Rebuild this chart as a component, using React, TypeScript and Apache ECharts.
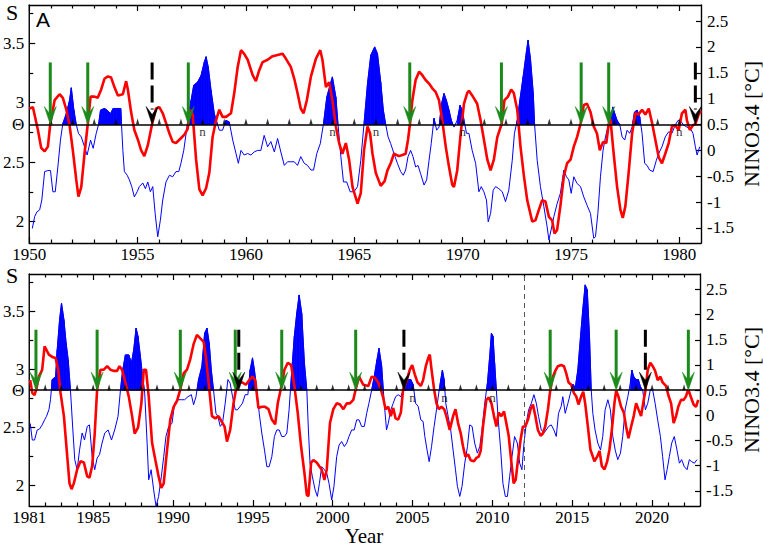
import React, { useEffect, useRef } from "react";
import * as echarts from "echarts";

// ---------------- data ----------------
// Panel A (1950-1981): S (red, left axis)
const topS: number[][] = [
  [1950.0, 2.95], [1950.17, 2.96], [1950.4, 2.77], [1950.55, 2.62], [1950.71, 2.59], [1950.86, 2.63], [1950.97, 2.82],
  [1951.17, 3.02], [1951.4, 3.07], [1951.55, 3.04], [1951.71, 2.94], [1951.86, 2.81], [1952.01, 2.6], [1952.17, 2.35],
  [1952.27, 2.21], [1952.4, 2.29], [1952.55, 2.57], [1952.7, 2.82], [1952.83, 3.05], [1953.01, 3.05], [1953.16, 3.04],
  [1953.32, 3.11], [1953.47, 3.2], [1953.63, 3.22], [1953.78, 3.21], [1953.93, 3.13], [1954.09, 3.06], [1954.32, 3.07],
  [1954.47, 3.18], [1954.55, 3.11], [1954.7, 2.92], [1954.85, 2.77], [1955.01, 2.69], [1955.16, 2.6], [1955.31, 2.55],
  [1955.47, 2.64], [1955.67, 2.82], [1955.85, 2.95], [1956.01, 2.96], [1956.16, 2.91], [1956.31, 2.83], [1956.47, 2.74],
  [1956.62, 2.67], [1956.77, 2.66], [1957.0, 2.7], [1957.16, 2.73], [1957.31, 2.78], [1957.43, 2.94], [1957.54, 2.9],
  [1957.7, 2.52], [1957.85, 2.27], [1958.0, 2.22], [1958.16, 2.28], [1958.31, 2.41], [1958.46, 2.71], [1958.62, 2.85],
  [1958.77, 2.94], [1958.92, 2.88], [1959.08, 2.88], [1959.31, 2.91], [1959.46, 3.08], [1959.62, 3.3], [1959.77, 3.44],
  [1959.92, 3.41], [1960.08, 3.36], [1960.31, 3.23], [1960.46, 3.18], [1960.61, 3.27], [1960.77, 3.34], [1961.0, 3.36],
  [1961.23, 3.39], [1961.46, 3.4], [1961.69, 3.41], [1961.84, 3.37], [1962.07, 3.3], [1962.23, 3.2], [1962.38, 3.08],
  [1962.53, 2.95], [1962.66, 2.91], [1962.81, 3.02], [1963.0, 3.22], [1963.23, 3.37], [1963.43, 3.44], [1963.53, 3.36],
  [1963.69, 3.13], [1963.84, 3.17], [1963.99, 3.02], [1964.15, 2.8], [1964.3, 2.66], [1964.45, 2.57], [1964.61, 2.66],
  [1964.76, 2.52], [1964.92, 2.29], [1965.15, 2.15], [1965.3, 2.24], [1965.45, 2.6], [1965.61, 2.8], [1965.73, 2.74],
  [1965.84, 2.57], [1965.99, 2.41], [1966.22, 2.3], [1966.4, 2.34], [1966.53, 2.43], [1966.68, 2.49], [1966.83, 2.57],
  [1967.06, 2.55], [1967.22, 2.56], [1967.37, 2.57], [1967.48, 2.69], [1967.57, 2.82], [1967.68, 3.02], [1967.83, 3.19],
  [1967.99, 3.26], [1968.14, 3.23], [1968.29, 3.19], [1968.45, 3.16], [1968.6, 3.12], [1968.75, 3.09], [1968.91, 3.02],
  [1969.06, 2.85], [1969.22, 2.63], [1969.37, 2.46], [1969.52, 2.31], [1969.6, 2.29], [1969.75, 2.43], [1969.91, 2.74],
  [1970.06, 2.99], [1970.21, 3.08], [1970.29, 3.1], [1970.44, 3.06], [1970.67, 2.99], [1970.83, 2.85], [1970.98, 2.69],
  [1971.14, 2.52], [1971.29, 2.43], [1971.44, 2.52], [1971.6, 2.71], [1971.8, 2.82], [1971.93, 3.02], [1972.09, 3.05],
  [1972.24, 3.11], [1972.36, 3.08], [1972.52, 2.94], [1972.67, 2.63], [1972.83, 2.38], [1972.98, 2.18], [1973.21, 2.0],
  [1973.36, 2.01], [1973.52, 2.1], [1973.67, 2.18], [1973.82, 2.17], [1973.98, 2.04], [1974.13, 2.01], [1974.24, 1.9],
  [1974.36, 1.93], [1974.51, 2.13], [1974.67, 2.38], [1974.82, 2.49], [1974.98, 2.52], [1975.13, 2.63], [1975.28, 2.71],
  [1975.44, 2.82], [1975.59, 2.98], [1975.74, 2.99], [1975.9, 2.92], [1976.05, 2.8], [1976.2, 2.74], [1976.33, 2.6],
  [1976.48, 2.67], [1976.63, 2.66], [1976.74, 2.82], [1976.82, 2.86], [1976.97, 2.57], [1977.13, 2.29], [1977.28, 2.1],
  [1977.39, 2.03], [1977.51, 2.13], [1977.66, 2.41], [1977.82, 2.74], [1977.97, 2.91], [1978.12, 2.9], [1978.28, 2.94],
  [1978.43, 2.9], [1978.59, 2.95], [1978.74, 2.83], [1978.89, 2.69], [1979.05, 2.54], [1979.2, 2.49], [1979.35, 2.57],
  [1979.51, 2.66], [1979.66, 2.8], [1979.81, 2.81], [1979.97, 2.77], [1980.12, 2.91], [1980.28, 2.94], [1980.35, 2.85],
  [1980.48, 2.77], [1980.63, 2.81], [1980.74, 2.82], [1980.89, 2.9], [1981.0, 2.93],
];

// Panel A: NINO3.4 (blue, right axis)
const topN: number[][] = [
  [1950.14, -1.51], [1950.25, -1.28], [1950.35, -1.19], [1950.48, -1.15], [1950.58, -0.96], [1950.71, -0.41],
  [1950.86, -0.39], [1950.98, -0.39], [1951.09, -0.8], [1951.2, -0.8], [1951.32, -0.32], [1951.44, 0.2], [1951.55, 0.52],
  [1951.71, 0.71], [1951.86, 0.97], [1951.94, 1.21], [1952.06, 0.78], [1952.17, 0.5], [1952.27, 0.33], [1952.4, 0.26],
  [1952.55, 0.07], [1952.67, -0.09], [1952.83, 0.2], [1952.95, 0.04], [1953.09, 0.33], [1953.2, 0.5], [1953.29, 0.78],
  [1953.47, 0.81], [1953.59, 0.78], [1953.75, 0.71], [1953.87, 0.81], [1954.01, 0.81], [1954.22, 0.81], [1954.32, 0.0],
  [1954.39, -0.41], [1954.52, -0.48], [1954.62, -0.57], [1954.73, -0.7], [1954.85, -0.9], [1954.98, -0.8], [1955.08, -0.7],
  [1955.24, -0.63], [1955.36, -0.74], [1955.47, -0.61], [1955.59, -0.8], [1955.7, -0.7], [1955.81, -1.22], [1955.93, -1.67],
  [1956.05, -1.35], [1956.16, -0.96], [1956.31, -0.61], [1956.47, -0.48], [1956.62, -0.51], [1956.77, -0.41],
  [1956.9, -0.41], [1957.0, -0.25], [1957.13, 0.0], [1957.24, 0.33], [1957.34, 0.65], [1957.47, 0.97], [1957.59, 1.26],
  [1957.77, 1.32], [1957.93, 1.45], [1958.08, 1.71], [1958.16, 1.81], [1958.26, 1.61], [1958.39, 1.16], [1958.54, 0.71],
  [1958.69, 0.5], [1958.77, 0.39], [1958.92, 0.39], [1959.08, 0.58], [1959.23, 0.55], [1959.39, 0.2], [1959.54, -0.06],
  [1959.65, -0.25], [1959.77, 0.0], [1959.92, -0.09], [1960.08, -0.06], [1960.23, -0.09], [1960.38, -0.03], [1960.54, 0.0],
  [1960.69, 0.0], [1960.84, 0.29], [1961.0, 0.07], [1961.15, 0.17], [1961.31, -0.03], [1961.46, 0.23], [1961.61, -0.03],
  [1961.77, -0.29], [1961.92, -0.22], [1962.07, -0.22], [1962.23, -0.22], [1962.38, -0.29], [1962.53, -0.12],
  [1962.69, -0.25], [1962.84, -0.29], [1963.0, -0.38], [1963.12, -0.38], [1963.27, -0.06], [1963.43, 0.13], [1963.58, 0.52],
  [1963.73, 1.03], [1963.92, 1.32], [1963.99, 1.42], [1964.15, 1.03], [1964.25, 0.5], [1964.38, -0.12], [1964.5, -0.61],
  [1964.65, -0.61], [1964.81, -0.8], [1964.99, -0.8], [1965.15, -0.7], [1965.3, -0.19], [1965.45, 0.52], [1965.61, 1.29],
  [1965.76, 1.84], [1965.94, 2.0], [1966.07, 1.87], [1966.22, 1.32], [1966.34, 0.78], [1966.45, 0.5], [1966.56, 0.26],
  [1966.68, 0.13], [1966.83, -0.06], [1966.99, -0.25], [1967.14, -0.41], [1967.26, -0.48], [1967.37, -0.38],
  [1967.48, -0.12], [1967.6, 0.0], [1967.71, -0.12], [1967.83, -0.32], [1967.94, -0.29], [1968.06, -0.45], [1968.22, -0.67],
  [1968.34, -0.57], [1968.45, -0.19], [1968.55, 0.13], [1968.68, 0.62], [1968.8, 0.39], [1968.91, 0.45], [1969.03, 0.91],
  [1969.14, 1.1], [1969.25, 0.97], [1969.37, 0.78], [1969.48, 0.58], [1969.6, 0.45], [1969.75, 0.58], [1969.88, 0.87],
  [1969.98, 0.78], [1970.09, 0.52], [1970.18, 0.33], [1970.29, 0.33], [1970.44, 0.0], [1970.6, -0.25], [1970.75, -0.8],
  [1970.86, -0.7], [1970.98, -0.8], [1971.1, -0.96], [1971.18, -1.38], [1971.29, -1.22], [1971.41, -0.77], [1971.52, -0.7],
  [1971.67, -0.74], [1971.83, -0.8], [1971.98, -0.99], [1972.13, -0.77], [1972.29, -0.19], [1972.39, 0.33], [1972.52, 0.58],
  [1972.64, 0.97], [1972.79, 1.42], [1972.95, 1.93], [1973.02, 2.13], [1973.13, 1.77], [1973.26, 1.1], [1973.32, 0.5],
  [1973.44, -0.19], [1973.59, -0.7], [1973.75, -1.09], [1973.9, -1.48], [1973.98, -1.73], [1974.08, -1.54], [1974.21, -1.28],
  [1974.36, -1.03], [1974.51, -0.83], [1974.67, -0.38], [1974.79, -0.51], [1974.9, -0.57], [1975.01, -0.83],
  [1975.13, -0.51], [1975.28, -0.64], [1975.44, -0.7], [1975.59, -0.9], [1975.74, -1.06], [1975.9, -1.22], [1976.05, -1.7],
  [1976.13, -1.67], [1976.24, -1.22], [1976.36, -0.51], [1976.48, 0.0], [1976.59, 0.26], [1976.7, 0.45], [1976.82, 0.58],
  [1976.93, 0.84], [1977.02, 0.71], [1977.13, 0.58], [1977.25, 0.5], [1977.36, 0.26], [1977.48, 0.2], [1977.59, 0.39],
  [1977.71, 0.33], [1977.82, 0.45], [1977.93, 0.74], [1978.05, 0.78], [1978.17, 0.65], [1978.28, 0.33], [1978.4, -0.25],
  [1978.51, -0.29], [1978.63, -0.38], [1978.79, -0.41], [1978.94, -0.19], [1979.05, -0.06], [1979.2, 0.07], [1979.35, 0.26],
  [1979.51, 0.36], [1979.66, 0.33], [1979.81, 0.49], [1979.94, 0.58], [1980.04, 0.58], [1980.2, 0.49], [1980.35, 0.45],
  [1980.51, 0.42], [1980.63, 0.33], [1980.74, 0.07], [1980.82, -0.09], [1980.94, 0.07],
];

// Panel B (1981-2023): S (red, left axis)
const bottomS: number[][] = [
  [1981.06, 2.91], [1981.19, 2.8], [1981.33, 2.78], [1981.44, 2.83], [1981.6, 2.94], [1981.81, 3.0], [1981.96, 3.2],
  [1982.08, 3.17], [1982.23, 3.13], [1982.44, 3.11], [1982.65, 3.1], [1982.81, 3.0], [1982.96, 2.8], [1983.17, 2.6],
  [1983.38, 2.25], [1983.52, 2.02], [1983.65, 1.97], [1983.79, 2.02], [1984.0, 2.14], [1984.21, 2.21], [1984.42, 2.2],
  [1984.63, 2.08], [1984.77, 2.07], [1984.94, 2.17], [1985.1, 2.45], [1985.25, 2.83], [1985.46, 3.0], [1985.67, 3.0],
  [1985.88, 3.03], [1986.08, 3.0], [1986.29, 2.99], [1986.5, 2.99], [1986.65, 3.03], [1986.81, 3.0], [1987.02, 2.89],
  [1987.23, 2.77], [1987.44, 2.6], [1987.6, 2.45], [1987.81, 2.5], [1988.02, 2.71], [1988.17, 3.0], [1988.31, 3.0],
  [1988.48, 2.77], [1988.69, 2.37], [1988.9, 2.22], [1989.1, 2.08], [1989.27, 1.98], [1989.42, 2.02], [1989.63, 2.31],
  [1989.83, 2.57], [1990.04, 2.68], [1990.25, 2.73], [1990.46, 2.83], [1990.67, 2.97], [1990.88, 3.0], [1991.08, 3.09],
  [1991.29, 3.22], [1991.5, 3.3], [1991.71, 3.27], [1991.92, 3.24], [1992.06, 3.11], [1992.23, 2.89], [1992.44, 2.6],
  [1992.65, 2.58], [1992.85, 2.6], [1993.06, 2.55], [1993.23, 2.51], [1993.38, 2.38], [1993.58, 2.48], [1993.79, 2.71],
  [1994.0, 2.87], [1994.15, 2.89], [1994.35, 2.89], [1994.56, 2.87], [1994.77, 2.91], [1994.98, 2.94], [1995.15, 2.91],
  [1995.35, 2.67], [1995.56, 2.68], [1995.77, 2.68], [1995.98, 2.66], [1996.19, 2.57], [1996.4, 2.53], [1996.56, 2.71],
  [1996.81, 2.87], [1996.98, 3.0], [1997.19, 3.06], [1997.4, 3.04], [1997.6, 2.86], [1997.81, 2.63], [1998.02, 2.34],
  [1998.23, 2.11], [1998.38, 1.92], [1998.48, 1.91], [1998.65, 2.2], [1998.79, 2.22], [1999.0, 2.2], [1999.15, 2.17],
  [1999.31, 2.14], [1999.48, 2.05], [1999.63, 2.14], [1999.83, 2.54], [2000.04, 2.66], [2000.25, 2.71], [2000.46, 2.7],
  [2000.67, 2.66], [2000.88, 2.71], [2001.08, 2.71], [2001.29, 2.74], [2001.44, 2.83], [2001.65, 2.94], [2001.92, 2.87],
  [2002.23, 2.86], [2002.44, 2.94], [2002.65, 2.93], [2002.85, 2.89], [2003.06, 2.81], [2003.16, 2.76], [2003.31, 2.66],
  [2003.48, 2.68], [2003.64, 2.6], [2003.79, 2.67], [2003.94, 2.58], [2004.1, 2.57], [2004.27, 2.63], [2004.41, 2.83],
  [2004.62, 2.9], [2004.83, 3.0], [2004.98, 3.04], [2005.14, 2.96], [2005.31, 2.89], [2005.52, 2.86], [2005.66, 2.91],
  [2005.83, 3.03], [2005.98, 3.1], [2006.08, 3.13], [2006.19, 3.0], [2006.35, 2.83], [2006.5, 2.71], [2006.64, 2.66],
  [2006.81, 2.68], [2006.98, 2.66], [2007.12, 2.6], [2007.33, 2.48], [2007.54, 2.6], [2007.69, 2.66], [2007.85, 2.54],
  [2008.02, 2.45], [2008.16, 2.34], [2008.31, 2.25], [2008.48, 2.27], [2008.64, 2.22], [2008.85, 2.21], [2009.0, 2.24],
  [2009.14, 2.25], [2009.27, 2.3], [2009.41, 2.51], [2009.62, 2.74], [2009.77, 2.76], [2009.94, 2.71], [2010.1, 2.6],
  [2010.25, 2.51], [2010.39, 2.63], [2010.56, 2.6], [2010.73, 2.64], [2010.87, 2.54], [2011.02, 2.43], [2011.19, 2.2],
  [2011.33, 2.02], [2011.46, 2.05], [2011.6, 2.22], [2011.77, 2.4], [2011.91, 2.51], [2012.06, 2.51], [2012.23, 2.57],
  [2012.39, 2.66], [2012.54, 2.7], [2012.69, 2.6], [2012.85, 2.48], [2013.02, 2.43], [2013.16, 2.45], [2013.31, 2.51],
  [2013.48, 2.66], [2013.62, 2.82], [2013.79, 2.94], [2013.94, 2.99], [2014.1, 3.03], [2014.31, 3.04], [2014.48, 3.03],
  [2014.62, 2.97], [2014.77, 2.89], [2014.94, 2.87], [2015.1, 2.8], [2015.25, 2.77], [2015.39, 2.7], [2015.56, 2.77],
  [2015.69, 2.81], [2015.81, 2.71], [2015.98, 2.51], [2016.14, 2.31], [2016.29, 2.25], [2016.39, 2.21], [2016.56, 2.25],
  [2016.71, 2.3], [2016.85, 2.17], [2017.02, 2.14], [2017.19, 2.21], [2017.33, 2.31], [2017.48, 2.48], [2017.64, 2.71],
  [2017.75, 2.82], [2017.89, 2.77], [2018.06, 2.68], [2018.23, 2.63], [2018.37, 2.51], [2018.52, 2.41], [2018.69, 2.51],
  [2018.85, 2.6], [2019.0, 2.71], [2019.14, 2.66], [2019.31, 2.6], [2019.44, 2.71], [2019.58, 2.82], [2019.73, 3.0],
  [2019.89, 3.06], [2020.04, 3.03], [2020.19, 2.99], [2020.35, 2.91], [2020.52, 2.94], [2020.66, 2.89], [2020.87, 2.86],
  [2021.02, 2.78], [2021.19, 2.71], [2021.35, 2.54], [2021.5, 2.6], [2021.64, 2.68], [2021.81, 2.74], [2021.98, 2.74],
  [2022.12, 2.77], [2022.27, 2.83], [2022.44, 2.76], [2022.6, 2.7], [2022.75, 2.68], [2022.89, 2.74],
];

// Panel B: NINO3.4 (blue, right axis)
const bottomN: number[][] = [
  [1981.06, -0.16], [1981.19, -0.49], [1981.33, -0.49], [1981.5, -0.29], [1981.65, -0.27], [1981.81, -0.19],
  [1981.96, -0.09], [1982.08, -0.02], [1982.23, 0.11], [1982.33, 0.31], [1982.44, 0.71], [1982.65, 0.77], [1982.75, 1.3],
  [1982.9, 1.9], [1983.02, 2.23], [1983.17, 1.9], [1983.31, 1.43], [1983.44, 1.1], [1983.58, 0.5], [1983.73, -0.29],
  [1983.85, -0.88], [1984.0, -1.08], [1984.15, -0.69], [1984.31, -0.35], [1984.46, -0.49], [1984.63, -0.22],
  [1984.77, -0.19], [1984.94, -0.82], [1985.1, -1.08], [1985.25, -0.85], [1985.4, -0.78], [1985.56, -0.55],
  [1985.73, -0.35], [1985.94, -0.29], [1986.15, -0.49], [1986.35, -0.29], [1986.56, -0.02], [1986.71, 0.5], [1986.85, 0.9],
  [1987.02, 1.2], [1987.23, 1.2], [1987.4, 1.04], [1987.54, 1.3], [1987.69, 1.73], [1987.81, 1.57], [1987.96, 1.17],
  [1988.1, 0.77], [1988.23, 0.44], [1988.38, -0.55], [1988.48, -1.28], [1988.63, -1.08], [1988.79, -1.48], [1988.94, -1.81],
  [1989.1, -1.61], [1989.27, -1.22], [1989.42, -0.82], [1989.56, -0.42], [1989.73, -0.22], [1989.94, -0.16], [1990.1, 0.24],
  [1990.31, 0.31], [1990.52, 0.31], [1990.73, 0.31], [1990.94, 0.37], [1991.15, 0.41], [1991.29, 0.21], [1991.44, 0.37],
  [1991.6, 0.71], [1991.81, 0.97], [1991.98, 1.63], [1992.13, 1.73], [1992.27, 1.43], [1992.4, 0.9], [1992.54, 0.5],
  [1992.69, 0.04], [1992.81, -0.02], [1992.96, -0.22], [1993.1, -0.16], [1993.27, 0.24], [1993.44, 0.71], [1993.58, 0.64],
  [1993.73, 0.37], [1993.9, 0.11], [1994.04, 0.11], [1994.21, 0.18], [1994.35, 0.24], [1994.52, 0.41], [1994.69, 0.41],
  [1994.83, 0.9], [1994.98, 1.14], [1995.1, 0.9], [1995.25, 0.5], [1995.4, 0.04], [1995.56, -0.35], [1995.73, -0.69],
  [1995.88, -1.02], [1996.02, -1.02], [1996.19, -0.82], [1996.35, -0.42], [1996.5, -0.29], [1996.65, -0.29],
  [1996.81, -0.42], [1996.98, -0.42], [1997.13, -0.35], [1997.27, 0.11], [1997.44, 0.9], [1997.6, 1.57], [1997.75, 2.03],
  [1997.9, 2.39], [1998.06, 2.03], [1998.23, 1.04], [1998.38, 0.5], [1998.48, -0.29], [1998.58, -0.95], [1998.73, -1.22],
  [1998.9, -1.48], [1999.04, -1.61], [1999.17, -1.35], [1999.31, -1.02], [1999.48, -1.08], [1999.63, -1.15],
  [1999.77, -1.35], [1999.94, -1.68], [2000.08, -1.41], [2000.25, -0.82], [2000.4, -0.59], [2000.56, -0.52],
  [2000.73, -0.62], [2000.88, -0.55], [2001.02, -0.42], [2001.19, -0.29], [2001.35, -0.29], [2001.5, -0.09],
  [2001.65, -0.09], [2001.81, -0.22], [2001.98, -0.22], [2002.13, 0.04], [2002.27, 0.24], [2002.44, 0.5], [2002.6, 0.77],
  [2002.77, 1.1], [2002.9, 1.33], [2003.06, 1.0], [2003.23, 0.24], [2003.37, -0.29], [2003.48, -0.16], [2003.64, 0.11],
  [2003.79, 0.24], [2003.94, 0.37], [2004.1, 0.41], [2004.27, 0.37], [2004.41, 0.5], [2004.56, 0.71], [2004.73, 0.71],
  [2004.89, 0.71], [2005.04, 0.61], [2005.19, 0.24], [2005.35, 0.18], [2005.52, -0.09], [2005.66, -0.12], [2005.77, -0.42],
  [2005.91, -0.69], [2006.04, -0.92], [2006.19, -0.62], [2006.35, -0.22], [2006.5, 0.11], [2006.64, 0.44], [2006.77, 0.71],
  [2006.87, 0.9], [2006.98, 0.71], [2007.08, 0.24], [2007.23, -0.02], [2007.39, -0.29], [2007.54, -0.69], [2007.69, -1.08],
  [2007.81, -1.41], [2007.96, -1.61], [2008.1, -1.41], [2008.27, -0.95], [2008.44, -0.62], [2008.58, -0.19],
  [2008.73, -0.22], [2008.89, -0.55], [2009.06, -0.75], [2009.21, -0.62], [2009.35, -0.29], [2009.52, 0.24], [2009.69, 0.64],
  [2009.83, 1.17], [2009.94, 1.63], [2010.04, 1.57], [2010.14, 1.04], [2010.25, 0.5], [2010.35, -0.02], [2010.52, -0.69],
  [2010.66, -1.35], [2010.81, -1.61], [2010.94, -1.61], [2011.08, -1.22], [2011.23, -0.82], [2011.39, -0.42],
  [2011.56, -0.55], [2011.71, -0.95], [2011.85, -1.08], [2011.98, -0.55], [2012.12, -0.16], [2012.27, 0.11], [2012.44, 0.24],
  [2012.6, 0.41], [2012.75, 0.24], [2012.89, -0.02], [2013.06, -0.29], [2013.23, -0.35], [2013.37, -0.29], [2013.52, -0.22],
  [2013.69, -0.19], [2013.85, -0.29], [2014.0, -0.42], [2014.14, 0.04], [2014.31, 0.18], [2014.41, 0.37], [2014.56, 0.04],
  [2014.73, 0.24], [2014.89, 0.44], [2015.04, 0.62], [2015.19, 0.55], [2015.35, 0.9], [2015.52, 1.57], [2015.66, 2.1],
  [2015.81, 2.59], [2015.94, 2.49], [2016.08, 1.57], [2016.19, 0.5], [2016.29, 0.04], [2016.43, -0.29], [2016.6, -0.55],
  [2016.77, -0.69], [2016.91, -0.42], [2017.06, 0.11], [2017.23, 0.31], [2017.39, 0.11], [2017.54, -0.42], [2017.69, -0.69],
  [2017.85, -0.88], [2018.02, -0.75], [2018.16, -0.42], [2018.31, 0.11], [2018.48, 0.37], [2018.64, 0.64], [2018.73, 0.9],
  [2018.85, 0.77], [2019.0, 0.71], [2019.14, 0.71], [2019.27, 0.57], [2019.41, 0.5], [2019.58, 0.11], [2019.73, 0.24],
  [2019.89, 0.51], [2020.04, 0.5], [2020.19, 0.24], [2020.35, -0.09], [2020.52, -0.42], [2020.66, -0.82], [2020.81, -1.28],
  [2020.94, -1.08], [2021.08, -0.82], [2021.23, -0.55], [2021.39, -0.42], [2021.56, -0.69], [2021.71, -0.95],
  [2021.85, -0.88], [2022.02, -1.02], [2022.19, -1.08], [2022.33, -0.88], [2022.48, -0.92], [2022.65, -0.95],
  [2022.81, -0.88],
];

// El Niño windows whose above-threshold part is shaded
const topFillWindows: number[][] = [
  [1951.3, 1952.2], [1953.1, 1954.3], [1957.2, 1959.4], [1963.5, 1964.4], [1965.4, 1966.6],
  [1968.6, 1969.65], [1969.7, 1970.15], [1972.3, 1973.4], [1976.6, 1977.3], [1977.8, 1978.35],
];
const bottomFillWindows: number[][] = [
  [1982.3, 1983.6], [1986.6, 1988.25], [1991.5, 1992.6], [1994.7, 1995.3], [1997.3, 1998.45],
  [2002.4, 2003.3], [2004.4, 2005.2], [2006.6, 2007.2], [2009.5, 2010.4], [2015.1, 2016.3], [2018.6, 2019.5],
];

// Arrows (years): green = correct alarms, black dashed = false alarms
const topGreenArrows = [1950.97, 1952.7, 1957.34, 1967.56, 1971.79, 1975.47, 1976.74];
const topBlackArrows = [1955.67, 1980.74];
const bottomGreenArrows = [1981.42, 1985.25, 1990.46, 1993.9, 1996.81, 2001.44, 2013.62, 2017.75, 2022.27];
const bottomBlackArrows = [1994.12, 2004.46, 2019.58];

// yearly markers on the threshold line, and "n" marks
const topYearMarks = [1951, 1952, 1953, 1954, 1955, 1956, 1957, 1958, 1959, 1960, 1961, 1962, 1963, 1964, 1965,
  1966, 1967, 1968, 1969, 1970, 1971, 1972, 1973, 1974, 1975, 1976, 1977, 1978, 1979, 1980];
const bottomYearMarks = [1982, 1983, 1984, 1985, 1986, 1987, 1988, 1989, 1990, 1991, 1992, 1993, 1994, 1995, 1996,
  1997, 1998, 1999, 2000, 2001, 2002, 2003, 2004, 2005, 2006, 2007, 2008, 2009, 2010, 2011, 2012, 2013, 2014, 2015,
  2016, 2017, 2018, 2019, 2020, 2021, 2022];
const topNMarks = [1958, 1964, 1966, 1970, 1980];
const bottomNMarks = [2005, 2007, 2010];

// tick labels
const topXLabels = [1950, 1955, 1960, 1965, 1970, 1975, 1980];
const bottomXLabels = [1981, 1985, 1990, 1995, 2000, 2005, 2010, 2015, 2020];
const sLabels = [2, 2.5, 3, 3.5];
const sMinorTicks = [2.25, 2.75, 3.25, 3.75];
const nLabels = [-1.5, -1, -0.5, 0, 0.5, 1, 1.5, 2, 2.5];
const verticalMarks = [2012];

// ---------------- styling constants ----------------
const THETA_N = 0.5;
const ARROW_TOP_N = 1.7;
const GREEN = "#1b8a1b";
const BLUE = "#0000ff";
const RED = "#ff0000";
const SERIF = "Liberation Serif";

function fillRenderer(windows: number[][]) {
  return (_params: any, api: any) => {
    const x0 = api.value(0), y0 = api.value(1), x1 = api.value(2), y1 = api.value(3);
    const mid = (x0 + x1) / 2;
    if (!windows.some((w) => mid >= w[0] && mid <= w[1])) return;
    const a0 = y0 - THETA_N, a1 = y1 - THETA_N;
    if (a0 <= 0 && a1 <= 0) return;
    let pts: number[][];
    if (a0 > 0 && a1 > 0) pts = [[x0, THETA_N], [x0, y0], [x1, y1], [x1, THETA_N]];
    else if (a0 > 0) {
      const xc = x0 + ((x1 - x0) * a0) / (a0 - a1);
      pts = [[x0, THETA_N], [x0, y0], [xc, THETA_N]];
    } else {
      const xc = x0 + ((x1 - x0) * -a0) / (a1 - a0);
      pts = [[xc, THETA_N], [x1, y1], [x1, THETA_N]];
    }
    return {
      type: "polygon",
      shape: { points: pts.map((p) => api.coord(p)) },
      style: { fill: BLUE, stroke: BLUE, lineWidth: 0.8 },
    };
  };
}

function arrowRenderer(_params: any, api: any) {
  const yr = api.value(0);
  const kind = api.value(1);
  const tip = api.coord([yr, THETA_N]);
  const top = api.coord([yr, ARROW_TOP_N]);
  const color = kind === 1 ? "#000000" : GREEN;
  const x = tip[0], yt = tip[1];
  return {
    type: "group",
    children: [
      {
        type: "line",
        shape: { x1: x, y1: top[1], x2: x, y2: kind === 1 ? yt - 15 : yt - 9 },
        style: { stroke: color, lineWidth: 3, lineDash: kind === 1 ? [17, 6] : null },
      },
      {
        type: "polygon",
        shape: { points: [[x, yt], [x - 6, yt - 18], [x, yt - 10], [x + 6, yt - 18]] },
        style: { fill: color, stroke: color, lineWidth: 0.5 },
      },
    ],
  };
}

type Panel = {
  grid: any; xMin: number; xMax: number; sMin: number; sMax: number; nMin: number; nMax: number;
  thetaS: number; s: number[][]; n: number[][]; windows: number[][]; green: number[]; black: number[];
  nMarks: number[]; yearMarks: number[]; xLabels: number[]; vlines: number[];
};

const panels: Panel[] = [
  {
    grid: { left: 28, top: 5, width: 673, height: 238 },
    xMin: 1950, xMax: 1981, sMin: 1.82, sMax: 3.82, nMin: -1.79, nMax: 2.81, thetaS: 2.82,
    s: topS, n: topN, windows: topFillWindows, green: topGreenArrows, black: topBlackArrows,
    nMarks: topNMarks, yearMarks: topYearMarks, xLabels: topXLabels, vlines: [],
  },
  {
    grid: { left: 28, top: 274, width: 672, height: 232 },
    xMin: 1981, xMax: 2023, sMin: 1.825, sMax: 3.825, nMin: -1.8, nMax: 2.806, thetaS: 2.825,
    s: bottomS, n: bottomN, windows: bottomFillWindows, green: bottomGreenArrows, black: bottomBlackArrows,
    nMarks: bottomNMarks, yearMarks: bottomYearMarks, xLabels: bottomXLabels, vlines: verticalMarks,
  },
];

const AXIS_LINE = { show: true, onZero: false, lineStyle: { color: "#000", width: 1.4 } };
const NO_LINE = { show: false, onZero: false };
const TICK_STYLE = { color: "#000", width: 1.2 };
const LABEL_BASE = { color: "#000", fontFamily: SERIF, fontSize: 17 };

function buildOption() {
  const xAxis: any[] = [];
  const yAxis: any[] = [];
  const series: any[] = [];
  panels.forEach((p, gi) => {
    const xb = gi * 4, yb = gi * 4;
    const xMajor = p.xLabels.filter((v) => v % 5 === 0);
    const xMinor = p.yearMarks.filter((v) => v % 5 !== 0);
    const xc = { type: "value", gridIndex: gi, min: p.xMin, max: p.xMax, splitLine: { show: false } };
    xAxis.push(
      {
        ...xc, position: "bottom", axisLine: AXIS_LINE,
        axisTick: { show: true, inside: true, length: 6, customValues: xMajor, lineStyle: TICK_STYLE },
        axisLabel: { ...LABEL_BASE, show: true, margin: 3, customValues: p.xLabels, formatter: (v: number) => String(v) },
      },
      {
        ...xc, position: "bottom", axisLine: NO_LINE,
        axisTick: { show: true, inside: true, length: 3.5, customValues: xMinor, lineStyle: TICK_STYLE },
        axisLabel: { show: false },
      },
      {
        ...xc, position: "top", axisLine: AXIS_LINE,
        axisTick: { show: true, inside: true, length: 6, customValues: xMajor, lineStyle: TICK_STYLE },
        axisLabel: { show: false },
      },
      {
        ...xc, position: "top", axisLine: NO_LINE,
        axisTick: { show: true, inside: true, length: 3.5, customValues: xMinor, lineStyle: TICK_STYLE },
        axisLabel: { show: false },
      }
    );
    const sc = { type: "value", gridIndex: gi, min: p.sMin, max: p.sMax, splitLine: { show: false } };
    const nc = { type: "value", gridIndex: gi, min: p.nMin, max: p.nMax, splitLine: { show: false } };
    const theta = p.thetaS;
    yAxis.push(
      {
        ...sc, position: "left", axisLine: AXIS_LINE,
        axisTick: { show: true, inside: true, length: 6, customValues: sLabels, lineStyle: TICK_STYLE },
        axisLabel: {
          ...LABEL_BASE, show: true, margin: 5, hideOverlap: false,
          customValues: [...sLabels, theta],
          formatter: (v: number) => (Math.abs(v - theta) < 1e-6 ? "Θ" : String(v)),
        },
      },
      {
        ...sc, position: "left", axisLine: NO_LINE,
        axisTick: { show: true, inside: true, length: 4, customValues: sMinorTicks, lineStyle: TICK_STYLE },
        axisLabel: { show: false },
      },
      {
        ...nc, position: "right", axisLine: AXIS_LINE,
        axisTick: { show: true, inside: true, length: 5, customValues: nLabels, lineStyle: TICK_STYLE },
        axisLabel: { ...LABEL_BASE, show: true, margin: 6, customValues: nLabels, formatter: (v: number) => String(v) },
      },
      { ...nc, position: "right", show: false }
    );

    const fillData = p.n.slice(0, -1).map((pt, i) => [pt[0], pt[1], p.n[i + 1][0], p.n[i + 1][1]]);
    const markLineData: any[] = [{ yAxis: THETA_N }];
    p.vlines.forEach((v) =>
      markLineData.push({ xAxis: v, lineStyle: { color: "#555", width: 1, type: [5, 4] } })
    );

    series.push(
      {
        type: "custom", name: "fill" + gi, xAxisIndex: xb, yAxisIndex: yb + 2, z: 1, silent: true, clip: true,
        data: fillData, encode: { x: [0, 2], y: [1, 3] }, renderItem: fillRenderer(p.windows),
      },
      {
        type: "line", name: "NINO3.4 " + gi, xAxisIndex: xb, yAxisIndex: yb + 2, z: 2, data: p.n,
        showSymbol: false, symbol: "none", silent: true,
        lineStyle: { color: BLUE, width: 1 },
        markLine: {
          silent: true, symbol: "none", label: { show: false },
          lineStyle: { color: "#000", width: 1.5, type: "solid" }, data: markLineData,
        },
      },
      {
        type: "line", name: "S " + gi, xAxisIndex: xb, yAxisIndex: yb, z: 3, data: p.s,
        showSymbol: false, symbol: "none", silent: true,
        lineStyle: { color: RED, width: 2.6 },
      },
      {
        type: "scatter", name: "years" + gi, xAxisIndex: xb, yAxisIndex: yb + 2, z: 4, silent: true,
        data: p.yearMarks.map((y) => [y, THETA_N]),
        symbol: "triangle", symbolSize: [3.5, 6], symbolOffset: [0, -3],
        itemStyle: { color: "#000" },
      },
      {
        type: "scatter", name: "n" + gi, xAxisIndex: xb, yAxisIndex: yb + 2, z: 4, silent: true,
        data: p.nMarks.map((y) => [y, THETA_N]),
        symbolSize: 1, itemStyle: { color: "transparent" },
        label: {
          show: true, formatter: "n", position: "bottom", distance: 0,
          fontFamily: SERIF, fontSize: 13, color: "#000",
        },
      },
      {
        type: "custom", name: "arrows" + gi, xAxisIndex: xb, yAxisIndex: yb + 2, z: 6, silent: true, clip: false,
        data: [...p.green.map((y) => [y, 0]), ...p.black.map((y) => [y, 1])],
        encode: { x: 0, y: 1 }, renderItem: arrowRenderer,
      }
    );
  });

  return {
    animation: false,
    backgroundColor: "#ffffff",
    textStyle: { fontFamily: SERIF },
    grid: panels.map((p) => ({ ...p.grid, containLabel: false })),
    xAxis,
    yAxis,
    series,
    graphic: [
      { type: "text", x: 6, y: 1, style: { text: "S", fontFamily: SERIF, fontSize: 22, fill: "#000" } },
      { type: "text", x: 6, y: 264, style: { text: "S", fontFamily: SERIF, fontSize: 22, fill: "#000" } },
      { type: "text", x: 36, y: 9, style: { text: "A", fontFamily: "Liberation Sans", fontSize: 21, fill: "#000" } },
      {
        type: "text", x: 751, y: 124, rotation: Math.PI / 2,
        style: { text: "NINO3.4 [°C]", fontFamily: SERIF, fontSize: 22, fill: "#000", textAlign: "center", textVerticalAlign: "middle" },
      },
      {
        type: "text", x: 751, y: 390, rotation: Math.PI / 2,
        style: { text: "NINO3.4 [°C]", fontFamily: SERIF, fontSize: 22, fill: "#000", textAlign: "center", textVerticalAlign: "middle" },
      },
      {
        type: "text", x: 364, y: 536,
        style: { text: "Year", fontFamily: SERIF, fontSize: 21, fill: "#000", textAlign: "center", textVerticalAlign: "middle" },
      },
    ],
  };
}

export default function App() {
  const ref = useRef<HTMLDivElement | null>(null);
  useEffect(() => {
    if (!ref.current) return;
    const chart = echarts.init(ref.current, undefined, { renderer: "svg" });
    chart.setOption(buildOption() as any);
    return () => chart.dispose();
  }, []);
  return (
    <div
      ref={ref}
      style={{ position: "fixed", left: 0, top: 0, width: 763, height: 549, background: "#fff" }}
    />
  );
}
